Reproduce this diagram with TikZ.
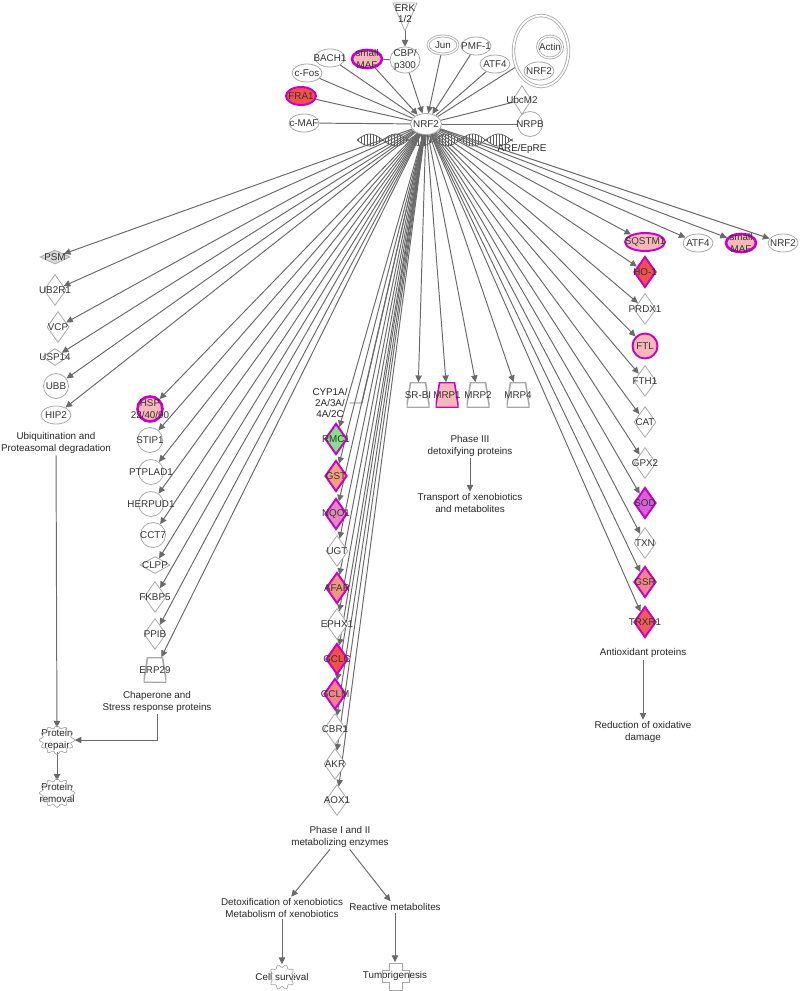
\documentclass[tikz,border=0pt]{standalone}
\usepackage{fontspec}
\setmainfont{Liberation Sans}
\usetikzlibrary{shapes.geometric,arrows.meta}
\newcommand{\genefont}{\fontsize{5.6}{6.4}\selectfont}
\definecolor{wiregray}{HTML}{6A6A6A}
\definecolor{shapegray}{HTML}{A8A8A8}
\definecolor{hitborder}{HTML}{C800C8}
\definecolor{hitpink}{HTML}{F6B8B8}
\definecolor{hitred}{HTML}{F2504A}
\definecolor{hitsalmon}{HTML}{F2848A}
\definecolor{hitorange}{HTML}{F2A07E}
\definecolor{hitgreen}{HTML}{86E086}
\definecolor{hitnqo}{HTML}{E488C4}
\definecolor{hitsod}{HTML}{D860D8}
\pgfdeclarelayer{bg}
\pgfdeclarelayer{edges}
\pgfsetlayers{bg,edges,main}
\tikzset{
  lbltext/.style={font=\genefont, inner sep=0pt, align=center, text=black!80},
  gn/.style={label={[lbltext]center:#1}},
  gene/.style={draw=shapegray, fill=white, line width=0.45pt, inner sep=0pt},
  oval/.style={gene, ellipse, minimum width=6mm, minimum height=3.6mm},
  circ/.style={gene, circle, minimum size=5mm},
  dia/.style={gene, diamond, minimum width=4.4mm, minimum height=6.2mm},
  flatdia/.style={gene, diamond, minimum width=6mm, minimum height=2.8mm},
  transp/.style 2 args={inner sep=0pt, minimum width=4.6mm, minimum height=5mm,
    path picture={\filldraw[draw=#1, fill=#2, line width=0.9pt]
      ([xshift=0.8mm]path picture bounding box.north west) -- ([xshift=-0.8mm]path picture bounding box.north east)
      -- (path picture bounding box.south east) -- (path picture bounding box.south west) -- cycle;}},
  hit/.style={draw=hitborder, line width=1.1pt},
  txt/.style={font=\genefont, align=center, inner sep=1pt, text=black!85},
  dnastyle/.style={draw=black!65, line width=0.4pt},
  blob/.style={draw=shapegray, line width=0.4pt},
}
\begin{document}
\begin{tikzpicture}[x=0.02cm,y=-0.02cm,>={Triangle[length=3.8pt,width=3.6pt]}]
\useasboundingbox (0,0) rectangle (800,991);
\begin{pgfonlayer}{bg}
\fill[white] (0,0) rectangle (800,991);
\end{pgfonlayer}
% Regulators around NRF2
\draw[gene] (393,3) -- (417,3) -- (405,31) -- cycle;
\node[txt] (erk) at (405,14) {ERK\\1/2};
\node[oval, gn=BACH1] (bach1) at (330,58) {};
\node[oval, hit, line width=1.5pt, fill=hitpink, gn={small\\MAF}] (smaf) at (367,59) {};
\node[oval, minimum height=5.2mm, gn={CBP/\\p300}] (cbp) at (405,60) {};
\node[oval, double, double distance=0.7pt, gn=Jun] (jun) at (443,45) {};
\node[oval, gn=PMF-1] (pmf1) at (476,46) {};
\node[oval, gn=ATF4] (atf4) at (495,64) {};
\node[gene, ellipse, double, double distance=1pt, fill=none, minimum width=11mm, minimum height=14.2mm] (cplx) at (541,51) {};
\node[oval, double, double distance=0.7pt, minimum width=5mm, minimum height=4.4mm, gn=Actin] (actin) at (550,47) {};
\node[oval, gn=NRF2] (nrfc) at (539,71) {};
\node[oval, gn=c-Fos] (cfos) at (307,73) {};
\node[oval, hit, fill=hitred, gn=FRA1] (fra1) at (301,96) {};
\node[dia, minimum width=3.8mm, minimum height=5.8mm, gn=UbcM2] (ubcm2) at (522,100) {};
\node[oval, gn=c-MAF] (cmaf) at (304,123) {};
\node[oval, minimum width=6.2mm, minimum height=4.2mm, gn=NRF2] (nrf2) at (426,124) {};
\node[circ, gn=NRPB] (nrpb) at (530,124) {};
\node[txt] (are) at (522,149) {ARE/EpRE};
% Ubiquitination and proteasomal degradation
\node[flatdia, fill=gray!30, gn=PSM] (psm) at (55,257) {};
\node[dia, gn=UB2R1] (ub2r1) at (55,290) {};
\node[dia, gn=VCP] (vcp) at (58,327) {};
\node[flatdia, minimum width=5mm, minimum height=3.4mm, gn=USP14] (usp14) at (55,357) {};
\node[circ, gn=UBB] (ubb) at (56,386) {};
\node[oval, gn=HIP2] (hip2) at (56,415) {};
\node[txt] (ubiq) at (56,443) {Ubiquitination and\\Proteasomal degradation};
\node[txt, minimum height=4.8mm] (prepair) at (57,740) {Protein\\repair};
\node[txt, minimum height=4.8mm] (premov) at (57,793) {Protein\\removal};
% Chaperone and stress response proteins
\node[circ, hit, line width=1.5pt, fill=hitpink, gn={HSP\\22/40/90}] (hsp) at (150,409) {};
\node[circ, gn=STIP1] (stip1) at (150,440) {};
\node[circ, gn=PTPLAD1] (ptplad1) at (151,472) {};
\node[circ, gn=HERPUD1] (herpud1) at (151,504) {};
\node[circ, gn=CCT7] (cct7) at (153,535) {};
\node[flatdia, minimum height=3.4mm, gn=CLPP] (clpp) at (155,565) {};
\node[dia, gn=FKBP5] (fkbp5) at (155,597) {};
\node[dia, gn=PPIB] (ppib) at (155,634) {};
\node[transp={shapegray}{white}, gn=ERP29] (erp29) at (155,670) {};
\node[txt] (chap) at (157,702) {Chaperone and\\Stress response proteins};
% Phase I and II metabolizing enzymes
\node[txt] (cyp) at (330,403) {CYP1A/\\2A/3A/\\4A/2C};
\coordinate (cypbend) at (362,403);
\node[dia, hit, fill=hitgreen, gn=RMC1] (rmc1) at (336,439) {};
\node[dia, hit, fill=hitorange, gn=GST] (gst) at (336,476) {};
\node[dia, hit, fill=hitnqo, gn=NQO1] (nqo1) at (336,514) {};
\node[dia, gn=UGT] (ugt) at (337,551) {};
\node[dia, hit, fill=hitorange!60!hitsalmon, gn=AFAR] (afar) at (337,588) {};
\node[dia, gn=EPHX1] (ephx1) at (337,624) {};
\node[dia, hit, fill=hitred, gn=GCLC] (gclc) at (337,659) {};
\node[dia, hit, fill=hitsalmon, gn=GCLM] (gclm) at (335,694) {};
\node[dia, gn=CBR1] (cbr1) at (335,729) {};
\node[dia, gn=AKR] (akr) at (335,764) {};
\node[dia, gn=AOX1] (aox1) at (337,800) {};
\node[txt] (phase12) at (340,837) {Phase I and II\\metabolizing enzymes};
\node[txt] (detox) at (282,908) {Detoxification of xenobiotics\\Metabolism of xenobiotics};
\node[txt] (reactive) at (395,907) {Reactive metabolites};
\node[txt, minimum height=5mm] (csurv) at (282,977) {Cell survival};
\node[txt, minimum height=5.4mm] (tumor) at (395,976) {Tumorigenesis};
% Phase III detoxifying proteins
\node[transp={shapegray}{white}, gn=SR-BI] (srbi) at (418,395) {};
\node[transp={hitborder}{hitpink}, gn=MRP1] (mrp1) at (447,395) {};
\node[transp={shapegray}{white}, gn=MRP2] (mrp2) at (478,395) {};
\node[transp={shapegray}{white}, gn=MRP4] (mrp4) at (518,395) {};
\node[txt] (phase3) at (470,446) {Phase III\\detoxifying proteins};
\node[txt] (transport) at (470,503) {Transport of xenobiotics\\and metabolites};
% Antioxidant proteins
\node[oval, hit, fill=hitpink, minimum width=8mm, gn=SQSTM1] (sqstm1) at (645,242) {};
\node[oval, gn=ATF4] (atf4b) at (698,243) {};
\node[oval, hit, line width=1.5pt, fill=hitpink, gn={small\\MAF}] (smafb) at (741,243) {};
\node[oval, gn=NRF2] (nrf2b) at (783,243) {};
\node[dia, hit, fill=hitred, gn=HO-1] (ho1) at (645,272) {};
\node[dia, gn=PRDX1] (prdx1) at (645,309) {};
\node[circ, hit, fill=hitpink, gn=FTL] (ftl) at (645,346) {};
\node[dia, gn=FTH1] (fth1) at (645,381) {};
\node[dia, gn=CAT] (cat) at (645,422) {};
\node[dia, gn=GPX2] (gpx2) at (645,463) {};
\node[dia, hit, fill=hitsod, gn=SOD] (sod) at (645,503) {};
\node[dia, gn=TXN] (txn) at (645,543) {};
\node[dia, hit, fill=hitsalmon, gn=GSR] (gsr) at (645,582) {};
\node[dia, hit, fill=hitred!80!hitsalmon, gn=TRXR1] (trxr1) at (645,622) {};
\node[txt] (antiox) at (643,653) {Antioxidant proteins};
\node[txt] (reduct) at (643,732) {Reduction of oxidative\\damage};
% outline shapes of the functions
\draw[blob] plot[domain=0:354, samples=60, smooth cycle] ({57+16*(1+0.12*cos(12*\x))*cos(\x)},{740+13*(1+0.12*cos(12*\x))*sin(\x)});
\draw[blob] plot[domain=0:354, samples=60, smooth cycle] ({57+16*(1+0.12*cos(12*\x))*cos(\x)},{793+13*(1+0.12*cos(12*\x))*sin(\x)});
\draw[blob] plot[domain=0:354, samples=60, smooth cycle] ({282+12*(1+0.14*cos(10*\x))*cos(\x)},{977+11*(1+0.14*cos(10*\x))*sin(\x)});
\draw[blob] (389,963) -- (402,963) -- (402,970) -- (409,970) -- (409,982) -- (402,982) -- (402,990) -- (389,990) -- (389,982) -- (382,982) -- (382,970) -- (389,970) -- cycle;
\begin{pgfonlayer}{edges}
% ARE/EpRE double helix
\draw[dnastyle] plot[domain=357:513, samples=90] (\x,{140+6*sin((\x-357)*7)});
\draw[dnastyle] plot[domain=357:513, samples=90] (\x,{140-6*sin((\x-357)*7)});
\foreach \x in {358,361,...,512}
  \draw[dnastyle, line width=0.25pt] (\x,{140+6*sin((\x-357)*7)}) -- (\x,{140-6*sin((\x-357)*7)});
\begin{scope}[draw=wiregray, line width=0.55pt]
\draw[->] (erk) -- (cbp);
\draw (smaf) -- (cbp);
\draw (bach1) -- (nrf2);
\draw[->] (smaf) -- (nrf2);
\draw[->] (cbp) -- (nrf2);
\draw[->] (jun) -- (nrf2);
\draw[->] (pmf1) -- (nrf2);
\draw (atf4) -- (nrf2);
\draw (cplx) -- (nrf2);
\draw (cfos) -- (nrf2);
\draw (fra1) -- (nrf2);
\draw (ubcm2) -- (nrf2);
\draw (cmaf) -- (nrf2);
\draw (nrpb) -- (nrf2);
% targets on the left
\draw[->] (nrf2) -- (psm);
\draw[->] (nrf2) -- (ub2r1);
\draw[->] (nrf2) -- (vcp);
\draw[->] (nrf2) -- (usp14);
\draw[->] (nrf2) -- (ubb);
\draw[->] (nrf2) -- (hip2);
\draw[->] (nrf2) -- (hsp);
\draw[->] (nrf2) -- (stip1);
\draw[->] (nrf2) -- (ptplad1);
\draw[->] (nrf2) -- (herpud1);
\draw[->] (nrf2) -- (cct7);
\draw[->] (nrf2) -- (clpp);
\draw[->] (nrf2) -- (fkbp5);
\draw[->] (nrf2) -- (ppib);
\draw[->] (nrf2) -- (erp29);
% phase I and II
\draw (nrf2) -- (cypbend) -- (cyp);
\draw[->] (nrf2) -- (rmc1);
\draw[->] (nrf2) -- (gst);
\draw[->] (nrf2) -- (nqo1);
\draw[->] (nrf2) -- (ugt);
\draw[->] (nrf2) -- (afar);
\draw[->] (nrf2) -- (ephx1);
\draw[->] (nrf2) -- (gclc);
\draw[->] (nrf2) -- (gclm);
\draw[->] (nrf2) -- (cbr1);
\draw[->] (nrf2) -- (akr);
\draw[->] (nrf2) -- (aox1);
% phase III
\draw[->] (nrf2) -- (srbi);
\draw[->] (nrf2) -- (mrp1);
\draw[->] (nrf2) -- (mrp2);
\draw[->] (nrf2) -- (mrp4);
% antioxidants
\draw[->] (nrf2) -- (sqstm1);
\draw[->] (nrf2) -- (atf4b);
\draw[->] (nrf2) -- (smafb);
\draw[->] (nrf2) -- (nrf2b);
\draw[->] (nrf2) -- (ho1);
\draw[->] (nrf2) -- (prdx1);
\draw[->] (nrf2) -- (ftl);
\draw[->] (nrf2) -- (fth1);
\draw[->] (nrf2) -- (cat);
\draw[->] (nrf2) -- (gpx2);
\draw[->] (nrf2) -- (sod);
\draw[->] (nrf2) -- (txn);
\draw[->] (nrf2) -- (gsr);
\draw[->] (nrf2) -- (trxr1);
% outcomes
\draw[->] (ubiq) -- (prepair);
\draw[->] (chap) |- (prepair);
\draw[->] (prepair) -- (premov);
\draw[->] (phase12) -- (detox);
\draw[->] (phase12) -- (reactive);
\draw[->] (detox) -- (csurv);
\draw[->] (reactive) -- (tumor);
\draw[->] (phase3) -- (transport);
\draw[->] (antiox) -- (reduct);
\end{scope}
\end{pgfonlayer}
\end{tikzpicture}
\end{document}
